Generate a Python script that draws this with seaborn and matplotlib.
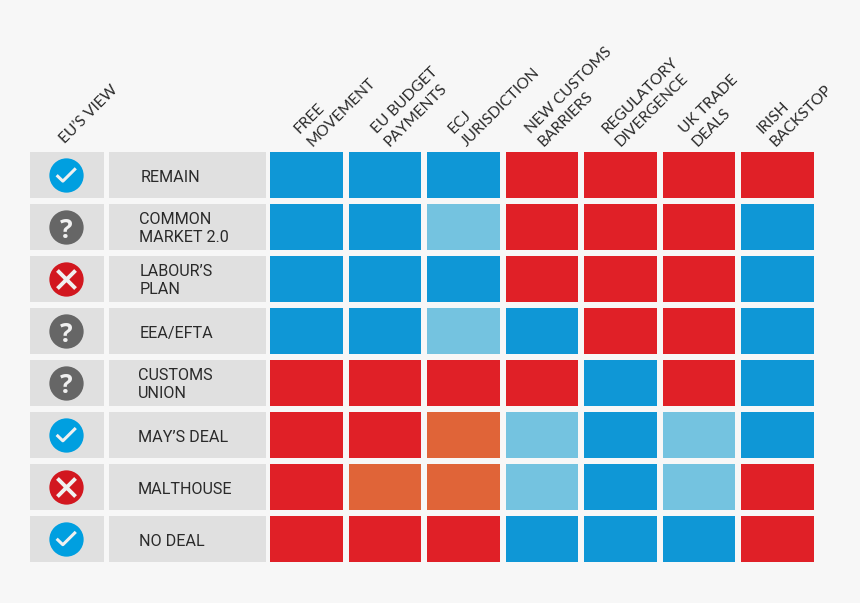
import matplotlib
matplotlib.use('Agg')
import matplotlib.pyplot as plt
import seaborn as sns
import numpy as np
import pandas as pd
from matplotlib.colors import ListedColormap
from matplotlib.path import Path

options = ['REMAIN', 'COMMON\nMARKET 2.0', "LABOUR\u2019S\nPLAN", 'EEA/EFTA',
           'CUSTOMS\nUNION', "MAY\u2019S DEAL", 'MALTHOUSE', 'NO DEAL']
issues = ['FREE\nMOVEMENT', 'EU BUDGET\nPAYMENTS', 'ECJ\nJURISDICTION',
          'NEW CUSTOMS\nBARRIERS', 'REGULATORY\nDIVERGENCE', 'UK TRADE\nDEALS',
          'IRISH\nBACKSTOP']
eu_view = ['yes', 'maybe', 'no', 'maybe', 'maybe', 'yes', 'no', 'yes']

# 0 blue, 1 light blue, 2 orange, 3 red
grid = [
    [0, 0, 0, 3, 3, 3, 3],
    [0, 0, 1, 3, 3, 3, 0],
    [0, 0, 0, 3, 3, 3, 0],
    [0, 0, 1, 0, 3, 3, 0],
    [3, 3, 3, 3, 0, 3, 0],
    [3, 3, 2, 1, 0, 1, 0],
    [3, 2, 2, 1, 0, 1, 3],
    [3, 3, 3, 0, 0, 0, 3],
]

W, H = 860, 603
BG = '#f7f7f7'
GREY = '#e0e0e0'
GAP = 5.5 * 72 / 100  # white lines between the cells, in points
TEXT = '#2a2a2a'
HEAD_FONT = ['Lato', 'DejaVu Sans']

sns.set_theme(style='white')
plt.rcParams['font.family'] = ['Roboto', 'DejaVu Sans']


# axes from pixel box; heatmap lines sit half outside the cells
def box(fig, left, right, top=149.25, bottom=564.75):
    return fig.add_axes([left / W, 1 - bottom / H, (right - left) / W, (bottom - top) / H])


fig = plt.figure(figsize=(W / 100, H / 100), dpi=100, facecolor=BG)

ax_view = box(fig, 27.25, 106.75)
ax_name = box(fig, 106.25, 268.75)
ax_main = box(fig, 267.25, 816.75)

df = pd.DataFrame(grid, index=options, columns=issues)
sns.heatmap(df, ax=ax_main, cmap=ListedColormap(['#0f97d6', '#74c3e0', '#e06438', '#e02027']),
            vmin=0, vmax=3, cbar=False, linewidths=GAP, linecolor=BG)
for ax in [ax_view, ax_name]:
    sns.heatmap(pd.DataFrame(np.zeros((len(options), 1))), ax=ax, cmap=ListedColormap([GREY]),
                vmin=0, vmax=1, cbar=False, linewidths=GAP, linecolor=BG)

# column headers on top, running up at 45 degrees
ax_main.xaxis.tick_top()
ax_main.set_yticks([])
ax_main.set_xticks(np.arange(len(issues)) * 0.983 + 0.6)
ax_main.set_xticklabels(issues, rotation=45, ha='left', va='bottom', rotation_mode='anchor',
                        fontsize=11.2, color=TEXT, linespacing=1.38, family=HEAD_FONT)
ax_main.tick_params(axis='x', length=0, pad=0)

ax_view.xaxis.tick_top()
ax_view.set_yticks([])
ax_view.set_xticklabels(["EU\u2019S VIEW"], rotation=45, ha='left', va='bottom', rotation_mode='anchor',
                        fontsize=11.2, color=TEXT, family=HEAD_FONT)
ax_view.tick_params(axis='x', length=0, pad=2)

ax_name.set_xticks([])
ax_name.set_yticks([])
name_x = [0.21, 0.2, 0.205, 0.205, 0.197, 0.197, 0.191, 0.2]
for i, name in enumerate(options):
    nudge = 0.03 if '\n' in name else 0.05
    ax_name.text(name_x[i], i + 0.5 + nudge, name, ha='left', va='center', fontsize=11.6,
                 color=TEXT, linespacing=1.25)

# EU's view icons
check = Path([(-1, 0.0), (-0.35, -0.62), (1, 0.72)], [Path.MOVETO, Path.LINETO, Path.LINETO])
icon_colors = {'yes': '#009fe0', 'maybe': '#666666', 'no': '#d2171f'}
ys = np.arange(len(eu_view)) + 0.5
for y, view in zip(ys, eu_view):
    ax_view.scatter(0.49, y, s=610, color=icon_colors[view], linewidths=0, zorder=3)
    if view == 'yes':
        ax_view.scatter(0.49, y, s=190, marker=check, facecolors='none', edgecolors='#f0f0f0',
                        linewidths=2.2, zorder=4)
    elif view == 'no':
        ax_view.scatter(0.49, y, s=170, marker='x', color='#f0f0f0', linewidths=2.8, zorder=4)
    else:
        ax_view.text(0.49, y, '?', ha='center', va='center_baseline', fontsize=19, fontweight='bold',
                     color='#f0f0f0', family=['Open Sans', 'DejaVu Sans'], zorder=4)

fig.savefig('out.png', dpi=100, facecolor=BG)
